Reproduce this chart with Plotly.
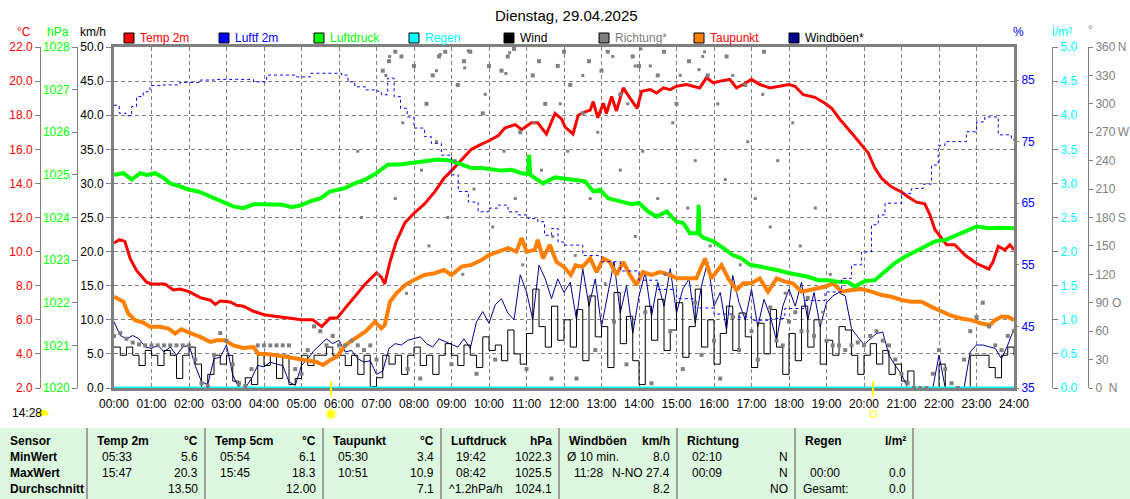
import math
import plotly.graph_objects as go

W, H = 1130, 499
def PX(x): return x / W
def PY(y): return 1 - y / H

# ---------------- data ----------------
temp_h = [0.0, 0.15, 0.29, 0.43, 0.6, 0.87, 1.0, 1.36, 1.58, 1.76, 2.0, 2.3, 2.57, 2.7, 2.83, 3.1, 3.27, 3.45, 3.72, 4.0,
          4.34, 4.7, 5.0, 5.3, 5.54, 5.76, 5.95, 6.16, 6.42, 6.7, 7.0, 7.13, 7.22, 7.36, 7.53, 7.76, 8.0, 8.28, 8.55, 8.8,
          9.0, 9.27, 9.53, 9.8, 10.0, 10.25, 10.42, 10.7, 10.87, 11.0, 11.13, 11.3, 11.53, 11.76, 11.93, 12.03, 12.1, 12.24, 12.38, 12.56,
          12.7, 12.78, 12.9, 13.05, 13.13, 13.27, 13.4, 13.58, 13.76, 13.95, 14.07, 14.3, 14.47, 14.65, 14.83, 15.0, 15.27, 15.45, 15.62, 15.8,
          15.98, 16.16, 16.42, 16.6, 16.78, 17.0, 17.22, 17.49, 17.76, 18.0, 18.16, 18.38, 18.69, 18.96, 19.14, 19.36, 19.67, 19.93, 20.11, 20.29,
          20.47, 20.73, 21.0, 21.18, 21.4, 21.62, 21.76, 21.89, 22.07, 22.2, 22.42, 22.69, 23.0, 23.33, 23.44, 23.58, 23.76, 23.89, 24.0]
temp_v = [10.5, 10.7, 10.6, 9.6, 8.9, 8.2, 8.1, 8.1, 7.75, 7.8, 7.65, 7.3, 7.15, 6.9, 7.1, 7.05, 6.85, 6.8, 6.5, 6.3,
          6.2, 6.1, 6.0, 6.0, 5.6, 6.1, 6.1, 6.67, 7.35, 8.1, 8.75, 8.5, 8.1, 9.4, 10.6, 11.7, 12.25, 12.8, 13.5, 14.3,
          14.75, 15.4, 16.0, 16.3, 16.5, 16.8, 17.25, 17.45, 17.15, 17.35, 17.55, 17.55, 16.9, 18.1, 17.8, 17.3, 17.15, 16.9, 18.0, 18.2,
          18.3, 18.8, 17.85, 18.7, 18.1, 19.1, 18.25, 19.6, 19.0, 18.4, 19.4, 19.5, 19.3, 19.6, 19.5, 19.7, 19.8, 19.7, 19.6, 20.2,
          19.9, 20.0, 20.1, 19.6, 19.8, 20.1, 19.8, 19.6, 19.7, 19.8, 19.7, 19.2, 19.05, 18.7, 18.4, 17.75, 16.96, 16.3, 15.8, 14.9,
          14.3, 13.8, 13.5, 13.2, 12.9, 12.8, 12.15, 11.3, 10.8, 10.4, 10.4, 9.8, 9.3, 8.98, 9.4, 10.3, 10.1, 10.4, 10.1]

pres_h = [0.0, 0.25, 0.47, 0.7, 0.87, 1.1, 1.32, 1.5, 1.76, 2.0, 2.25, 2.47, 2.74, 2.96, 3.18, 3.45, 3.72, 3.98, 4.25, 4.5,
          4.74, 4.96, 5.23, 5.5, 5.76, 5.95, 6.16, 6.42, 6.7, 7.0, 7.3, 7.67, 8.0, 8.38, 8.64, 9.0, 9.27, 9.53, 9.8, 10.07,
          10.33, 10.6, 10.87, 11.04, 11.07, 11.1, 11.22, 11.44, 11.76, 12.0, 12.24, 12.56, 12.78, 12.96, 13.18, 13.5, 13.8, 14.0, 14.24, 14.47,
          14.74, 15.0, 15.18, 15.36, 15.53, 15.57, 15.59, 15.62, 15.71, 15.98, 16.25, 16.5, 16.73, 16.96, 17.22, 17.49, 17.76, 18.02, 18.24, 18.51,
          18.78, 19.04, 19.31, 19.58, 19.76, 20.02, 20.29, 20.56, 20.82, 21.09, 21.36, 21.62, 21.89, 22.16, 22.42, 22.69, 23.0, 23.33, 23.6, 23.87, 24.0]
pres_v = [1025.0, 1025.04, 1024.89, 1025.04, 1025.0, 1025.04, 1024.93, 1024.8, 1024.73, 1024.65, 1024.61, 1024.53, 1024.42, 1024.36, 1024.26, 1024.22, 1024.31, 1024.31, 1024.31, 1024.3,
          1024.24, 1024.28, 1024.38, 1024.45, 1024.61, 1024.65, 1024.69, 1024.8, 1024.89, 1025.04, 1025.24, 1025.25, 1025.28, 1025.32, 1025.36, 1025.33, 1025.24, 1025.16, 1025.16, 1025.12,
          1025.1, 1025.12, 1025.04, 1025.02, 1025.47, 1025.0, 1024.93, 1024.8, 1024.94, 1024.91, 1024.89, 1024.85, 1024.61, 1024.65, 1024.45, 1024.38, 1024.31, 1024.34, 1024.14, 1024.02,
          1024.14, 1023.9, 1023.87, 1023.63, 1023.63, 1023.63, 1024.3, 1023.6, 1023.53, 1023.44, 1023.28, 1023.12, 1023.04, 1022.89, 1022.85, 1022.81, 1022.75, 1022.69, 1022.65, 1022.61,
          1022.53, 1022.53, 1022.49, 1022.48, 1022.38, 1022.51, 1022.53, 1022.73, 1022.93, 1023.08, 1023.2, 1023.32, 1023.44, 1023.47, 1023.58, 1023.67, 1023.79, 1023.75, 1023.76, 1023.75, 1023.75]

dew_h = [0.0, 0.25, 0.38, 0.56, 0.78, 0.96, 1.23, 1.45, 1.63, 1.8, 2.0, 2.3, 2.57, 2.74, 2.96, 3.18, 3.45, 3.72, 3.85, 4.07,
         4.34, 4.6, 4.87, 5.14, 5.4, 5.58, 5.76, 5.95, 6.16, 6.42, 6.7, 6.96, 7.13, 7.22, 7.36, 7.53, 7.76, 8.0, 8.28, 8.55,
         8.8, 9.0, 9.27, 9.53, 9.8, 10.0, 10.25, 10.51, 10.73, 10.87, 11.0, 11.22, 11.3, 11.44, 11.62, 11.8, 12.0, 12.18, 12.31, 12.49,
         12.7, 12.87, 13.05, 13.22, 13.4, 13.58, 13.76, 13.93, 14.1, 14.33, 14.56, 14.83, 15.0, 15.27, 15.53, 15.76, 15.93, 16.2, 16.38, 16.6,
         16.78, 17.0, 17.22, 17.44, 17.67, 17.89, 18.1, 18.33, 18.51, 18.73, 18.96, 19.18, 19.4, 19.67, 19.93, 20.2, 20.47, 20.73, 21.0, 21.27,
         21.53, 21.8, 22.07, 22.33, 22.6, 22.87, 23.13, 23.36, 23.49, 23.67, 23.84, 24.0]
dew_v = [7.35, 7.06, 6.37, 5.98, 5.84, 5.59, 5.59, 5.49, 5.2, 5.45, 5.25, 5.0, 4.7, 4.8, 4.8, 4.5, 4.35, 4.4, 4.0, 4.0,
         3.92, 3.82, 3.73, 3.63, 3.53, 3.35, 3.63, 3.85, 4.5, 4.9, 5.3, 5.88, 5.49, 5.69, 7.06, 7.55, 8.04, 8.33, 8.63, 8.73,
         8.92, 8.63, 9.12, 9.22, 9.5, 9.8, 10.0, 10.2, 10.0, 10.8, 10.0, 10.1, 10.69, 9.6, 10.4, 9.4, 9.1, 8.63, 9.2, 9.1,
         9.6, 8.8, 9.6, 9.4, 8.63, 9.4, 8.63, 8.04, 8.8, 8.63, 8.8, 8.63, 8.43, 8.43, 8.43, 9.6, 8.43, 9.2, 8.43, 7.75,
         8.14, 8.14, 8.43, 7.65, 8.43, 8.24, 8.14, 7.65, 7.75, 7.84, 7.94, 8.14, 7.65, 7.75, 7.8, 7.65, 7.45, 7.35, 7.16, 7.06,
         7.06, 6.76, 6.47, 6.24, 6.08, 5.98, 5.78, 5.69, 5.98, 6.18, 6.18, 5.98]

hum_h = [0.0, 0.14, 0.32, 0.47, 0.6, 0.78, 0.96, 1.23, 1.76, 2.3, 2.74, 3.27, 3.72, 4.07, 4.5, 4.87, 5.23, 5.67, 6.07, 6.24,
         6.42, 6.7, 6.96, 7.13, 7.3, 7.47, 7.64, 7.82, 8.0, 8.28, 8.46, 8.73, 9.0, 9.18, 9.45, 9.71, 9.98, 10.25, 10.51, 10.78,
         11.04, 11.3, 11.48, 11.67, 11.84, 12.0, 12.5, 13.0, 13.5, 14.0, 14.5, 15.0, 15.5, 16.0, 16.5, 17.0, 17.5, 17.89, 18.42, 18.96,
         19.4, 19.67, 19.93, 20.2, 20.38, 20.56, 20.82, 21.0, 21.27, 21.58, 21.8, 21.98, 22.16, 22.51, 22.73, 23.0, 23.22, 23.44, 23.58, 23.93, 24.0]
hum_v = [80.9, 79.6, 79.2, 80.7, 82.3, 83.1, 84.1, 84.2, 84.6, 85.0, 85.1, 85.1, 84.7, 85.8, 85.8, 85.5, 86.1, 86.1, 85.8, 84.7,
         83.9, 83.4, 83.2, 82.6, 85.3, 82.3, 80.4, 79.0, 77.2, 75.8, 74.7, 72.8, 69.6, 66.9, 65.2, 63.6, 64.2, 64.7, 63.6, 63.1,
         62.5, 62.0, 59.8, 60.9, 58.7, 58.2, 56.5, 55.5, 54.0, 52.5, 51.0, 49.5, 48.0, 47.0, 46.5, 46.0, 46.3, 47.9, 49.2, 50.6,
         52.8, 55.0, 57.1, 61.5, 63.1, 65.0, 65.0, 66.6, 67.4, 68.1, 71.2, 74.4, 75.0, 75.0, 76.6, 78.2, 79.0, 79.0, 76.1, 75.3, 75.3]

# 10-minute samples 00:00 .. 24:00
t10 = [i / 6 for i in range(145)]
wind_v = [6.0, 4.8, 6.0, 4.8, 3.3, 5.5,   4.8, 3.3, 5.5, 4.8, 1.4, 4.8,   6.0, 3.5, 0.0, 2.0, 4.8, 3.5,
          4.8, 1.0, 0.0, 1.5, 0.5, 4.8,   3.3, 4.8, 1.4, 4.8, 0.5, 1.4,   4.8, 3.3, 4.8, 4.8, 6.0, 4.8,
          4.8, 3.3, 4.8, 2.0, 4.8, 0.2,   1.5, 4.8, 3.5, 4.8, 2.0, 4.8,   6.0, 3.3, 4.8, 2.0, 4.8, 6.5,
          4.8, 3.3, 6.3, 4.8, 3.0, 7.5,   5.5, 6.3, 4.0, 8.5, 5.0, 3.5,   8.0, 14.5, 9.0, 6.0, 12.0, 7.0,
          10.0, 6.0, 11.5, 4.0, 13.5, 7.5,   9.0, 3.0, 14.0, 6.5, 10.5, 4.0,   0.5, 12.0, 7.0, 13.0, 5.5, 8.5,
          12.5, 4.5, 9.0, 14.5, 6.0, 10.0,   3.5, 8.0, 12.0, 5.5, 11.0, 7.5,   3.0, 9.5, 5.0, 11.5, 6.0, 2.0,
          8.0, 4.0, 12.0, 6.0, 10.0, 3.5,   7.0, 4.8, 9.0, 8.5, 4.8, 2.0,   4.8, 6.5, 3.5, 5.5, 2.0, 3.5,
          1.0, 2.5, 0.0, 0.0, 0.0, 0.0,   3.5, 0.0, 0.0, 0.0, 0.0, 4.8,   4.8, 4.8, 3.0, 1.5, 4.8, 6.0,
          4.8]
gust_v = [9.7, 7.7, 7.2, 7.7, 7.2, 6.0,   5.8, 6.3, 5.3, 6.0, 4.8, 6.0,   6.3, 3.3, 0.9, 0.5, 4.3, 4.5,
          6.3, 1.9, 0.0, 0.0, 1.4, 3.3,   3.1, 3.8, 3.5, 3.3, 0.9, 0.4,   3.3, 4.3, 5.5, 6.3, 7.2, 6.5,
          7.0, 5.3, 5.5, 4.3, 3.8, 4.0,   2.0, 2.5, 5.8, 6.5, 6.3, 7.0,   7.2, 7.5, 6.5, 6.0, 7.2, 6.8,
          6.5, 6.0, 7.2, 5.8, 9.7, 11.2,   9.5, 12.2, 13.1, 11.0, 10.0, 16.6,   14.1, 10.0, 18.0, 16.0, 13.1, 16.0,
          14.0, 15.5, 10.0, 17.5, 12.0, 16.0,   9.0, 14.0, 18.5, 11.0, 15.0, 8.0,   13.5, 17.0, 10.5, 15.5, 12.0, 17.5,
          11.0, 14.5, 16.0, 9.5, 15.0, 18.5,   12.0, 14.0, 8.5, 16.5, 12.5, 10.0,   14.5, 9.0, 13.0, 10.5, 7.0, 12.0,
          14.5, 12.0, 15.5, 10.0, 14.0, 9.0,   12.5, 13.5, 14.0, 13.5, 8.7, 7.5,   6.3, 7.2, 8.0, 8.2, 4.8, 3.3,
          2.0, 0.0, 0.0, 0.0, 0.0, 0.0,   4.8, 0.0, 0.0, 0.0, 0.0, 5.3,   6.3, 6.3, 6.0, 5.8, 4.3, 6.3,
          8.7]
dir_v = [55, 58, 52, 48, 46, 45,   45, 45, 45, 45, 45, 45,   45, 30, 5, 2, 35, 58,
         50, 25, 5, 2, 20, 45,   45, 45, 45, 45, 45, 20,   15, 40, 65, 60, 45, 55,
         45, 45, 50, 45, 40, 45,   30, 335, 345, 355, 350, 20,   340, 10, 300, 330, 350, 355,
         25, 320, 345, 355, 15, 290,   340, 30, 335, 350, 358, 270,   20, 330, 345, 300, 10, 340,
         355, 320, 10, 290, 345, 40,   335, 355, 70, 310, 25, 350,   340, 80, 5, 330, 355, 60,
         300, 20, 345, 90, 35, 330,   50, 10, 350, 75, 40, 320,   60, 30, 355, 85, 50, 45,
         70, 80, 60, 95, 55, 70,   50, 45, 45, 40, 45, 48,   45, 55, 60, 50, 45, 30,
         15, 5, 0, 0, 0, 15,   40, 20, 5, 0, 30, 60,   75, 90, 65, 45, 40, 55,
         60]
dir2_h = [6.5, 6.6, 7.05, 7.5, 7.7, 7.8, 8.2, 8.4, 8.6, 8.9, 9.1, 9.3, 9.6, 9.9, 10.1, 10.4, 10.7, 10.9, 11.2, 11.4,
          11.7, 11.9, 12.1, 12.3, 12.5, 12.7, 12.9, 13.1, 13.3, 13.5, 13.7, 13.9, 14.1, 14.3, 14.5, 14.7, 14.9, 15.1, 15.3, 15.5,
          15.7, 15.9, 16.1, 16.3, 16.5, 16.7, 16.9, 17.1, 17.3, 17.5, 17.7, 17.9, 18.1, 18.3, 18.5, 18.7, 18.9, 19.1,
          7.25, 7.35, 8.6, 8.7, 9.35, 9.45, 10.45, 10.55, 13.9, 14.05, 15.6, 15.75]
dir2_v = [250, 180, 120, 200, 280, 100, 230, 150, 260, 180, 240, 120, 210, 310, 170, 250, 200, 130, 280, 230,
          160, 300, 250, 140, 330, 200, 270, 110, 350, 230, 300, 160, 250, 340, 200, 120, 280, 330, 190, 240,
          350, 150, 300, 220, 330, 130, 260, 200, 310, 170, 240, 100, 280, 150, 60, 190, 80, 120,
          330, 350, 335, 352, 338, 356, 332, 354, 340, 358, 336, 355]
rain_h = [0, 24]
rain_v = [0.0, 0.0]

hour_ticks = list(range(25))
hour_labels = [f"{h:02d}:00" for h in hour_ticks]
kmh_ticks = list(range(0, 51, 5))
temp_ticks = list(range(2, 23, 2))
hpa_ticks = list(range(1020, 1029))
hum_ticks = [35, 45, 55, 65, 75, 85]
rain_ticks = [i / 2 for i in range(11)]
dir_ticks = list(range(0, 361, 30))
dir_labels = ["0\u00a0\u00a0N", "30", "60", "90\u00a0O", "120", "150", "180\u2009S", "210", "240",
              "270\u2009W", "300", "330", "360\u2009N"]

tbl_rows = ["Sensor", "MinWert", "MaxWert", "Durchschnitt"]
tbl_headers = ["Temp 2m", "Temp 5cm", "Taupunkt", "Luftdruck", "Windböen", "Richtung", "Regen"]
tbl_units = ["°C", "°C", "°C", "hPa", "km/h", "", "l/m²"]
tbl_min_time = ["05:33", "05:54", "05:30", "19:42", "Ø 10 min.", "02:10", ""]
tbl_min_val = ["5.6", "6.1", "3.4", "1022.3", "8.0", "N", ""]
tbl_max_time = ["15:47", "15:45", "10:51", "08:42", "11:28", "00:09", "00:00"]
tbl_max_val = ["20.3", "18.3", "10.9", "1025.5", "N-NO 27.4", "N", "0.0"]
tbl_avg_time = ["", "", "", "^1.2hPa/h", "", "", "Gesamt:"]
tbl_avg_val = ["13.50", "12.00", "7.1", "1024.1", "8.2", "NO", "0.0"]

# ---------------- figure ----------------
FONT = "Liberation Sans, Arial, sans-serif"
GRAY = "#808080"

fig = go.Figure()
fig.add_trace(go.Scatter(x=t10, y=dir_v, yaxis="y6", mode="markers",
                         marker=dict(symbol="square", size=4, color=GRAY, line=dict(width=0))))
fig.add_trace(go.Scatter(x=dir2_h, y=dir2_v, yaxis="y6", mode="markers",
                         marker=dict(symbol="square", size=3, color=GRAY, line=dict(width=0))))
fig.add_trace(go.Scatter(x=rain_h, y=rain_v, yaxis="y5", mode="lines",
                         line=dict(color="#00FFFF", width=3)))
fig.add_trace(go.Scatter(x=hum_h, y=hum_v, yaxis="y4", mode="lines",
                         line=dict(color="#0000FF", width=1, dash="3px,3px", shape="hv")))
fig.add_trace(go.Scatter(x=t10, y=gust_v, yaxis="y", mode="lines",
                         line=dict(color="#000090", width=1)))
fig.add_trace(go.Scatter(x=t10, y=wind_v, yaxis="y", mode="lines",
                         line=dict(color="#000000", width=1, shape="hv")))
fig.add_trace(go.Scatter(x=dew_h, y=dew_v, yaxis="y2", mode="lines",
                         line=dict(color="#FF8000", width=4)))
fig.add_trace(go.Scatter(x=pres_h, y=pres_v, yaxis="y3", mode="lines",
                         line=dict(color="#00FF00", width=4)))
fig.add_trace(go.Scatter(x=temp_h, y=temp_v, yaxis="y2", mode="lines",
                         line=dict(color="#FF0000", width=3)))

dom = [PY(388), PY(47)]
common_free = dict(overlaying="y", anchor="free", showgrid=False, zeroline=False, showline=True,
                   linecolor=GRAY, linewidth=1, ticks="outside", ticklen=5, tickcolor=GRAY,
                   automargin=False, fixedrange=True)

fig.update_layout(
    template="none", width=W, height=H, margin=dict(l=0, r=0, t=0, b=0, pad=0),
    paper_bgcolor="white", plot_bgcolor="white", showlegend=False,
    font=dict(family=FONT, size=12, color="black"),
    xaxis=dict(domain=[PX(114), PX(1014)], range=[0, 24], tickvals=hour_ticks, ticktext=hour_labels,
               showgrid=True, gridcolor=GRAY, griddash="4px,3px", gridwidth=1, zeroline=False,
               showline=True, linecolor=GRAY, linewidth=3, mirror=True,
               ticks="outside", ticklen=3, tickcolor="rgba(0,0,0,0)",
               tickfont=dict(size=12, color="black"), automargin=False, fixedrange=True),
    yaxis=dict(domain=dom, range=[0, 50], tickvals=kmh_ticks, tickformat=".1f",
               showgrid=True, gridcolor=GRAY, griddash="4px,3px", gridwidth=1, zeroline=False,
               showline=True, linecolor=GRAY, linewidth=3, mirror=True,
               ticks="outside", ticklen=5, tickcolor=GRAY,
               tickfont=dict(size=12, color="black"), automargin=False, fixedrange=True),
    yaxis2=dict(position=PX(40), side="left", range=[2, 22], tickvals=temp_ticks, tickformat=".1f",
                tickfont=dict(size=12, color="#FF0000"), **common_free),
    yaxis3=dict(position=PX(77), side="left", range=[1020, 1028], tickvals=hpa_ticks,
                tickfont=dict(size=12, color="#00FF00"), **common_free),
    yaxis4=dict(overlaying="y", anchor="x", side="right", range=[35, 90.36], tickvals=hum_ticks,
                showgrid=False, zeroline=False, showline=False, ticks="outside", ticklen=4, tickcolor=GRAY,
                tickfont=dict(size=12, color="#0000FF"), automargin=False, fixedrange=True),
    yaxis5=dict(position=PX(1052), side="right", range=[0, 5], tickvals=rain_ticks, tickformat=".1f",
                tickfont=dict(size=12, color="#00FFFF"), **common_free),
    yaxis6=dict(position=PX(1088), side="right", range=[0, 360], tickvals=dir_ticks, ticktext=dir_labels,
                tickfont=dict(size=12, color=GRAY), **dict(common_free, ticklen=4)),
)

ann = []
shapes = []

def text(x, y, s, color="black", size=12, anchor="left", family=FONT, bold=False):
    if bold:
        s = f"<b>{s}</b>"
    ann.append(dict(x=PX(x), y=PY(y), xref="paper", yref="paper", text=s, showarrow=False,
                    xanchor=anchor, yanchor="middle", font=dict(family=family, size=size, color=color)))

# title
text(566, 15, "Dienstag, 29.04.2025", size=15, anchor="center")

# unit labels
text(24, 32, "°C", color="#FF0000", anchor="center")
text(58, 32, "hPa", color="#00FF00", anchor="center")
text(93, 32, "km/h", color="black", anchor="center")
text(1018, 32, "%", color="#0000FF", anchor="center")
text(1062, 32, "l/m²", color="#00FFFF", anchor="center")
text(1090, 30, "°", color=GRAY, anchor="center")

# legend
legend_items = [("Temp 2m", "#FF0000", "#FF0000", 124), ("Luftf 2m", "#0000FF", "#0000FF", 219),
                ("Luftdruck", "#00FF00", "#00FF00", 314), ("Regen", "#00FFFF", "#00FFFF", 409),
                ("Wind", "#000000", "#000000", 504), ("Richtung*", GRAY, GRAY, 599),
                ("Taupunkt", "#FF8000", "#FF0000", 694), ("Windböen*", "#000090", "#000000", 789)]
for name, fill, tcol, x0 in legend_items:
    shapes.append(dict(type="rect", xref="paper", yref="paper", x0=PX(x0), x1=PX(x0 + 10),
                       y0=PY(43), y1=PY(33), fillcolor=fill, line=dict(color="black", width=1)))
    text(x0 + 14, 38, name, color=tcol)

# sunrise / sunset markers
for xs in (331, 873):
    shapes.append(dict(type="line", xref="paper", yref="paper", x0=PX(xs), x1=PX(xs),
                       y0=PY(396), y1=PY(381), line=dict(color="#FFFF00", width=2), layer="above"))
shapes.append(dict(type="circle", xref="paper", yref="paper", x0=PX(325), x1=PX(337), y0=PY(420), y1=PY(408),
                   fillcolor="#FFFFA0", line=dict(width=0)))
shapes.append(dict(type="circle", xref="paper", yref="paper", x0=PX(327.5), x1=PX(334.5), y0=PY(417.5), y1=PY(410.5),
                   fillcolor="#FFFF00", line=dict(width=0)))
shapes.append(dict(type="rect", xref="paper", yref="paper", x0=PX(870), x1=PX(876), y0=PY(417), y1=PY(411),
                   line=dict(color="#FFFF00", width=1)))
text(10, 413, "14:28")
pts = [(43 + 5 * math.cos(math.radians(a)), 415 - 5 * math.sin(math.radians(a))) for a in range(0, 181, 20)]
path = "M " + " L ".join(f"{PX(px_):.5f},{PY(py_):.5f}" for px_, py_ in pts) + " Z"
shapes.append(dict(type="path", xref="paper", yref="paper", path=path, fillcolor="#FFFF00",
                   line=dict(color="#FFFF00", width=1)))

# table
shapes.append(dict(type="rect", xref="paper", yref="paper", x0=0, x1=1, y0=0, y1=PY(428),
                   fillcolor="#DCF8DE", line=dict(width=0), layer="below"))
col_left = [87 + 118 * i for i in range(7)]
for xs in col_left + [913]:
    shapes.append(dict(type="line", xref="paper", yref="paper", x0=PX(xs), x1=PX(xs), y0=0, y1=PY(428),
                       line=dict(color="#A0A0A0", width=2)))
row_y = [441, 457, 473, 489]
for r, lab in enumerate(tbl_rows):
    text(8, row_y[r], lab, bold=True)
for i in range(7):
    l = col_left[i]
    rgt = l + 118
    text(l + 8, row_y[0], tbl_headers[i], bold=True)
    if tbl_units[i]:
        text(rgt - 5, row_y[0], tbl_units[i], bold=True, anchor="right")
    for r, (tt, vv) in enumerate([(tbl_min_time[i], tbl_min_val[i]), (tbl_max_time[i], tbl_max_val[i]),
                                   (tbl_avg_time[i], tbl_avg_val[i])]):
        if tt:
            off = 13 if tt[0].isdigit() else 6
            text(l + off, row_y[r + 1], tt, size=12)
        if vv:
            text(rgt - 5, row_y[r + 1], vv, size=12, anchor="right")

fig.update_layout(annotations=ann, shapes=shapes)
fig.write_html("out.html", config={"displayModeBar": False},
               post_script="document.body.style.margin='0px';document.body.style.overflow='hidden';")
